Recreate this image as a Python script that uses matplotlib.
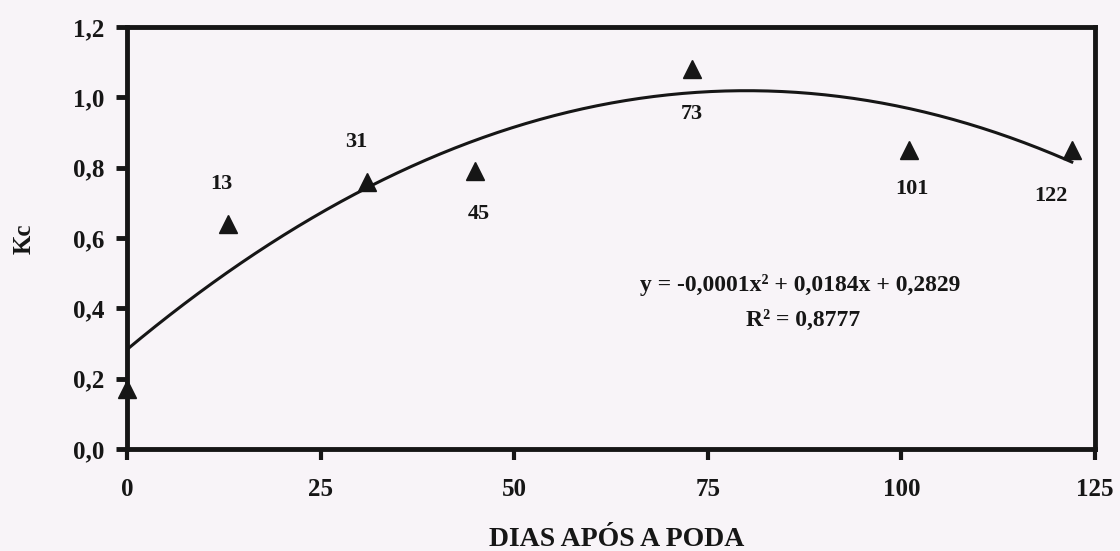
import numpy as np
import matplotlib
matplotlib.use('Agg')
import matplotlib.pyplot as plt

# data
dias = [0, 13, 31, 45, 73, 101, 122]
kc = [0.17, 0.64, 0.76, 0.79, 1.08, 0.85, 0.85]
rotulos = ['', '13', '31', '45', '73', '101', '122']

# quadratic trend line, as drawn on the chart
coef = [-0.000115, 0.0184, 0.2829]
equacao = 'y = -0,0001x² + 0,0184x + 0,2829'
r2 = 'R² = 0,8777'

plt.rcParams['font.family'] = ['Liberation Serif', 'DejaVu Serif']

fundo = '#f8f4f8'
preto = '#161616'
W, H = 1120, 551
fig = plt.figure(figsize=(11.2, 5.51), dpi=100, facecolor=fundo)
ax = fig.add_axes([127 / W, 1 - 449 / H, 968 / W, 422 / H], facecolor=fundo)

xs = np.linspace(0, 122, 200)
ax.plot(xs, np.polyval(coef, xs), color=preto, lw=2.2, zorder=2)
ax.plot(dias, kc, linestyle='none', marker='^', markersize=13,
        color=preto, zorder=3, clip_on=False)

# label offsets in pixels (dx, dy up)
desloc = [(0, 0), (-6, 40), (-11, 40), (3, -43), (0, -45), (3, -39), (-21, -46)]
for x, y, t, d in zip(dias, kc, rotulos, desloc):
    if t:
        ax.annotate(t, (x, y), xytext=d, textcoords='offset pixels',
                    ha='center', va='center', fontsize=16, fontweight='bold',
                    color=preto)

fig.text(800 / W, 1 - 285 / H, equacao, ha='center', va='center',
         fontsize=17, fontweight='bold', color=preto)
fig.text(803 / W, 1 - 320 / H, r2, ha='center', va='center',
         fontsize=17, fontweight='bold', color=preto)

ax.set_xlim(0, 125)
ax.set_ylim(0, 1.2)
ax.set_xticks([0, 25, 50, 75, 100, 125])
ax.set_xticklabels(['0', '25', '50', '75', '100', '125'])
ax.set_yticks([0, 0.2, 0.4, 0.6, 0.8, 1.0, 1.2])
ax.set_yticklabels(['0,0', '0,2', '0,4', '0,6', '0,8', '1,0', '1,2'])
ax.tick_params(axis='y', direction='out', length=8, width=3.5, labelsize=18,
               pad=8, color=preto, labelcolor=preto)
ax.tick_params(axis='x', direction='out', length=8, width=3, labelsize=18,
               pad=13, color=preto, labelcolor=preto)
for lb in ax.get_xticklabels() + ax.get_yticklabels():
    lb.set_fontweight('bold')
for sp in ax.spines.values():
    sp.set_linewidth(3.5)
    sp.set_color(preto)

fig.text(617 / W, 1 - 540 / H, 'DIAS APÓS A PODA', ha='center', va='center',
         fontsize=20, fontweight='bold', color=preto)
fig.text(24 / W, 1 - 239 / H, 'Kc', ha='center', va='center', rotation=90,
         fontsize=18, fontweight='bold', color=preto)

fig.savefig('out.png', dpi=100, facecolor=fundo)
